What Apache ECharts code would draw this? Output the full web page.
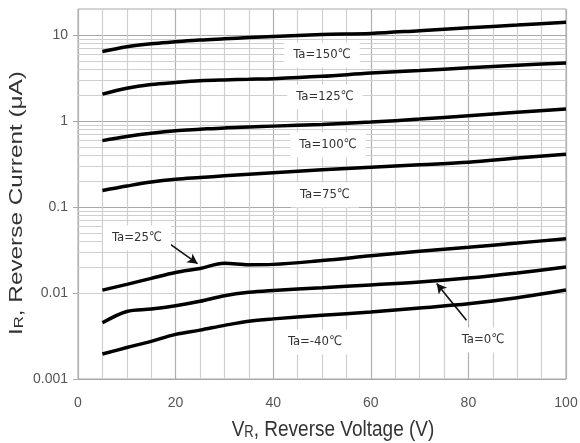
<!DOCTYPE html>
<html><head><meta charset="utf-8">
<script src="https://cdn.jsdelivr.net/npm/echarts@6/dist/echarts.min.js"></script>
<style>html,body{margin:0;padding:0;background:#fff}#c{width:580px;height:443px}</style>
</head><body><div id="c"></div>
<script>
// Reverse voltage (V)
const voltage = [5, 10, 15, 20, 25, 30, 35, 40, 50, 60, 70, 80, 90, 100];
// Reverse current (uA) per ambient temperature
const ta150 = [6.4, 7.3, 7.9, 8.3, 8.7, 9.0, 9.3, 9.6, 10.1, 10.4, 11.2, 12.1, 13.0, 14.0];
const ta125 = [2.05, 2.4, 2.65, 2.8, 2.93, 3.0, 3.05, 3.1, 3.3, 3.6, 3.85, 4.15, 4.45, 4.7];
const ta100 = [0.59, 0.66, 0.72, 0.77, 0.8, 0.83, 0.85, 0.87, 0.91, 0.97, 1.05, 1.15, 1.26, 1.38];
const ta75  = [0.155, 0.175, 0.195, 0.21, 0.22, 0.23, 0.24, 0.25, 0.27, 0.29, 0.31, 0.33, 0.37, 0.41];
const ta25  = [0.0108, 0.0126, 0.0148, 0.0173, 0.0193, 0.0222, 0.0213, 0.0215, 0.0238, 0.027, 0.0305, 0.034, 0.038, 0.0428];
const ta0   = [0.0045, 0.0061, 0.0065, 0.0071, 0.008, 0.0093, 0.0102, 0.0107, 0.0115, 0.0124, 0.0134, 0.0149, 0.0171, 0.020];
const taM40 = [0.00195, 0.00232, 0.00274, 0.0033, 0.0037, 0.0042, 0.0047, 0.005, 0.0055, 0.006, 0.0067, 0.0075, 0.0088, 0.0108];

const seriesNames = ['Ta=150℃', 'Ta=125℃', 'Ta=100℃', 'Ta=75℃', 'Ta=25℃', 'Ta=0℃', 'Ta=-40℃'];
const seriesValues = [ta150, ta125, ta100, ta75, ta25, ta0, taM40];

const xTickLabels = ['0', '20', '40', '60', '80', '100'];
const yTickValues = [0.001, 0.01, 0.1, 1, 10];
const yTickLabels = ['0.001', '0.01', '0.1', '1', '10'];
const minorMultipliers = [2, 3, 4, 5, 6, 7, 8, 9];

const minorLines = [];
yTickValues.slice(0, 4).forEach(d => minorMultipliers.forEach(m => minorLines.push({ yAxis: +(d * m).toPrecision(3) })));

const labelFont = '13px "Liberation Sans Narrow", "DejaVu Sans Condensed", sans-serif';
function tag(text, x, y) {
  return {
    type: 'text', z: 100, x: x, y: y,
    style: {
      text: text, font: labelFont, fill: '#333',
      align: 'center', verticalAlign: 'middle',
      backgroundColor: '#fff', padding: [6, 9]
    }
  };
}
const titleRich = {
  n: { fontSize: 19, fontFamily: '"Liberation Sans", Arial, sans-serif', fill: '#333', color: '#333' },
  s: { fontSize: 13, fontFamily: '"Liberation Sans", Arial, sans-serif', fill: '#333', color: '#333', padding: [5, 0, 0, 0] }
};

const chart = echarts.init(document.getElementById('c'));
const lineSeries = seriesNames.map((name, i) => ({
  name: name, type: 'line', z: 5,
  data: voltage.map((v, j) => [v, seriesValues[i][j]]),
  showSymbol: false, smooth: 0.35,
  lineStyle: { color: '#000', width: 3.5 },
  itemStyle: { color: '#000' }
}));

chart.setOption({
  animation: false,
  backgroundColor: '#fff',
  grid: { left: 78, right: 14, top: 9, bottom: 64, containLabel: false, outerBoundsMode: 'none',
          show: true, borderColor: '#a8a8a8', borderWidth: 1 },
  xAxis: {
    type: 'value', min: 0, max: 100, interval: 5,
    axisLine: { show: false }, axisTick: { show: false },
    splitLine: { show: true, lineStyle: { color: ['#b0b0b0', '#cfcfcf', '#cfcfcf', '#cfcfcf'], width: 1.2 } },
    axisLabel: {
      margin: 17, color: '#555', fontSize: 14, fontFamily: '"Liberation Sans Narrow", sans-serif',
      formatter: v => (v % 20 === 0 ? xTickLabels[v / 20] : '')
    }
  },
  yAxis: {
    type: 'log', logBase: 10, min: 0.001, max: 20,
    axisLine: { show: false },
    axisTick: { show: true, length: 5, lineStyle: { color: '#a8a8a8' }, customValues: yTickValues },
    splitLine: { show: true, lineStyle: { color: '#a8a8a8', width: 1.2 } },
    axisLabel: {
      margin: 10, color: '#555', fontSize: 14, fontFamily: '"Liberation Sans Narrow", sans-serif',
      customValues: yTickValues,
      formatter: v => {
        let best = 0;
        yTickValues.forEach((t, i) => { if (Math.abs(Math.log10(t) - Math.log10(v)) < Math.abs(Math.log10(yTickValues[best]) - Math.log10(v))) best = i; });
        return yTickLabels[best];
      }
    }
  },
  series: [
    {
      type: 'line', data: [], z: 1, silent: true,
      markLine: {
        silent: true, symbol: ['none', 'none'], label: { show: false },
        lineStyle: { color: '#cfcfcf', width: 1.2, type: 'solid' },
        data: minorLines
      }
    },
    {
      type: 'line', data: [], z: 6, silent: true,
      markLine: {
        silent: true, symbol: ['none', 'arrow'], symbolSize: [8, 10], label: { show: false },
        lineStyle: { color: '#111', width: 1.6, type: 'solid' },
        data: [
          [{ coord: [18.0, 0.0401] }, { coord: [24.5, 0.0219] }],
          [{ coord: [79.6, 0.00483] }, { coord: [73.5, 0.0129] }]
        ]
      }
    }
  ].concat(lineSeries),
  graphic: [
    tag(seriesNames[0], 322, 55),
    tag(seriesNames[1], 325, 97),
    tag(seriesNames[2], 328, 145),
    tag(seriesNames[3], 325, 195),
    tag(seriesNames[4], 137, 238),
    tag(seriesNames[6], 315, 342),
    tag(seriesNames[5], 483, 340),
    {
      type: 'text', z: 100, x: 333, y: 430, scaleY: 1.2,
      style: { text: '{n|V}{s|R}{n|, Reverse Voltage (V)}', rich: titleRich, align: 'center', verticalAlign: 'middle' }
    },
    {
      type: 'text', z: 100, x: 17, y: 203, rotation: Math.PI / 2, scaleX: 1.28,
      style: { text: '{n|I}{s|R}{n|, Reverse Current (μA)}', rich: titleRich, align: 'center', verticalAlign: 'middle' }
    }
  ]
});
</script></body></html>
